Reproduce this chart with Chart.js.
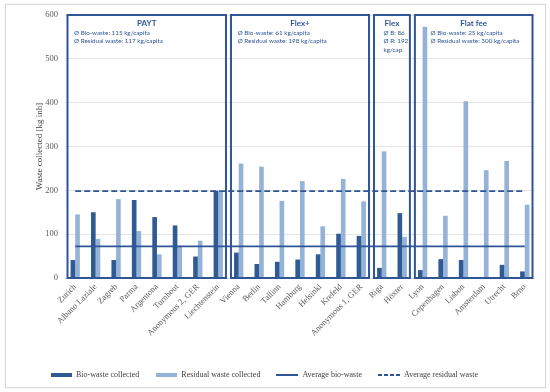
<!DOCTYPE html>
<html><head><meta charset="utf-8">
<script src="https://cdn.jsdelivr.net/npm/chart.js@4.4.0/dist/chart.umd.min.js"></script>
<style>
html,body{margin:0;padding:0;background:#fff;}
#frame{position:absolute;left:5px;top:4px;width:539px;height:382px;border:1px solid #dadada;box-shadow:0 0 2px rgba(0,0,0,0.08);}
#wrap{position:absolute;left:0;top:0;width:550px;height:392px;}
</style></head><body>
<div id="frame"></div>
<div id="wrap"><canvas id="c" width="550" height="392"></canvas></div>
<script>
// ---- data ----
const categories = ['Zurich','Albano Laziale','Zagreb','Parma','Argentona','Turnhout','Anonymous 2, GER','Liechtenstein',
  'Vienna','Berlin','Tallinn','Hamburg','Helsinki','Krefeld','Anonymous 1, GER',
  'Riga','Höxter',
  'Lyon','Copenhagen','Lisbon','Amsterdam','Utrecht','Brno'];
const bioWaste = [41,150,41,178,139,120,49,199, 58,32,37,42,54,101,96, 23,148, 18,43,41,0,30,15];
const residualWaste = [145,89,180,107,54,71,85,198, 261,254,176,221,118,226,175, 289,94, 573,142,403,246,267,167];
const avgBioWaste = 72;
const avgResidualWaste = 198;
const yTicks = [0,100,200,300,400,500,600];
const seriesNames = ['Bio-waste collected','Residual waste collected','Average bio-waste','Average residual waste'];
const groupNames = ['PAYT','Flex+','Flex','Flat fee'];
const groupFirst = [0,8,15,17];
const groupLast = [7,14,16,22];
const groupNotes = [
  ['Ø Bio-waste: 115 kg/capita','Ø Residual waste: 117 kg/capita'],
  ['Ø Bio-waste: 61 kg/capita','Ø Residual waste: 198 kg/capita'],
  ['Ø B: 86','Ø R: 192','kg/cap.'],
  ['Ø Bio-waste: 25 kg/capita','Ø Residual waste: 300 kg/capita']
];

// ---- styles ----
const DARK = '#2f5a94';
const LIGHT = '#95b3d7';
const LINE = '#2f5597';
const noteInset = [6.5, 6.7, 9.5, 15.7];
const SERIF = '"Liberation Serif", "Times New Roman", serif';

function swatch(w, h, color, dash) {
  const c = document.createElement('canvas');
  c.width = w; c.height = h;
  const g = c.getContext('2d');
  if (dash !== undefined) {
    g.strokeStyle = color; g.lineWidth = h;
    g.setLineDash(dash);
    g.beginPath(); g.moveTo(0, h / 2); g.lineTo(w, h / 2); g.stroke();
  } else {
    g.fillStyle = color; g.fillRect(0, 0, w, h);
  }
  return c;
}
const legendStyles = [swatch(21,4,DARK), swatch(21,4,LIGHT), swatch(22,2,LINE,[]), swatch(22,2,LINE,[4,2])];

const groupBoxes = {
  id: 'groupBoxes',
  afterDatasetsDraw(chart) {
    const {ctx, scales: {x, y}} = chart;
    const half = (x.getPixelForValue(1) - x.getPixelForValue(0)) / 2;
    const top = y.getPixelForValue(600);
    const bottom = y.getPixelForValue(0);
    ctx.save();
    groupNames.forEach((name, i) => {
      const l = x.getPixelForValue(groupFirst[i]) - half + 2.5;
      const r = x.getPixelForValue(groupLast[i]) + half - 2.5;
      ctx.strokeStyle = LINE;
      ctx.lineWidth = 2;
      ctx.strokeRect(l, top, r - l, bottom - top);
      ctx.fillStyle = LINE;
      ctx.textAlign = 'center';
      ctx.textBaseline = 'middle';
      ctx.font = 'bold 8px Lato, "Open Sans", sans-serif';
      ctx.fillText(name, (l + r) / 2, top + 8.5);
      ctx.textAlign = 'left';
      ctx.font = '6.3px Lato, "Open Sans", sans-serif';
      groupNotes[i].forEach((t, k) => {
        ctx.fillText(t, l + noteInset[i], top + 18 + k * 8.4);
      });
    });
    ctx.restore();
  }
};

new Chart(document.getElementById('c'), {
  type: 'bar',
  data: {
    labels: categories,
    datasets: [
      {label: seriesNames[0], data: bioWaste, backgroundColor: DARK, categoryPercentage: 0.455, barPercentage: 1.0},
      {label: seriesNames[1], data: residualWaste, backgroundColor: LIGHT, categoryPercentage: 0.455, barPercentage: 1.0},
      {type: 'line', label: seriesNames[2], data: categories.map(() => avgBioWaste), borderColor: LINE, borderWidth: 1.8, pointRadius: 0, fill: false, order: -1},
      {type: 'line', label: seriesNames[3], data: categories.map(() => avgResidualWaste), borderColor: LINE, borderWidth: 1.8, borderDash: [6,3], pointRadius: 0, fill: false, order: -1}
    ]
  },
  options: {
    responsive: false,
    animation: false,
    devicePixelRatio: 1,
    layout: {padding: {left: 34, right: 15, top: 15, bottom: 3}},
    plugins: {
      tooltip: {enabled: false},
      legend: {
        position: 'bottom',
        align: 'start',
        labels: {
          usePointStyle: true,
          pointStyleWidth: 22,
          boxHeight: 8,
          padding: 16,
          color: '#404040',
          font: {family: SERIF, size: 8},
          generateLabels: () => seriesNames.map((n, i) => ({
            text: n, pointStyle: legendStyles[i], datasetIndex: i, fillStyle: 'transparent', strokeStyle: 'transparent', lineWidth: 0, hidden: false, fontColor: '#404040'
          }))
        }
      }
    },
    scales: {
      x: {
        grid: {display: false, drawTicks: false},
        border: {display: false},
        ticks: {autoSkip: false, minRotation: 45, maxRotation: 45, padding: 4, color: '#595959', font: {family: SERIF, size: 8.5}},
        afterFit(s) { s.height = 77; }
      },
      y: {
        min: 0, max: 600,
        afterBuildTicks(s) { s.ticks = yTicks.map(v => ({value: v})); },
        grid: {color: '#e4e4e4', drawTicks: false},
        border: {display: false},
        ticks: {padding: 7, color: '#595959', font: {family: SERIF, size: 8.5}},
        title: {display: true, text: 'Waste collected [kg inh]', color: '#404040', font: {family: SERIF, size: 9}, padding: 0},
        afterFit(s) { s.width = 31; }
      }
    }
  },
  plugins: [groupBoxes]
});
</script>
</body></html>
